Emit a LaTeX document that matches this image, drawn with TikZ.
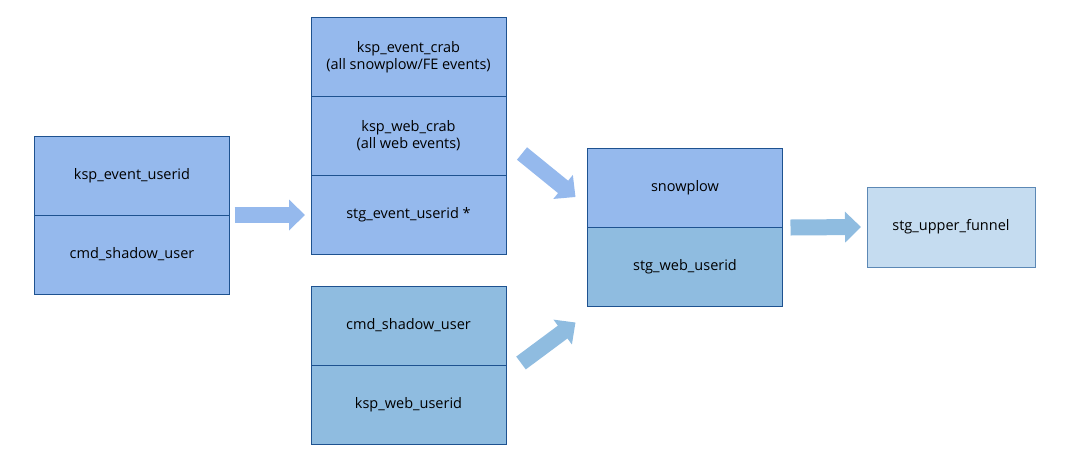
\documentclass[tikz,border=0pt]{standalone}
\usepackage{fontspec}
\setmainfont{Open Sans}
\usepackage{xcolor}
\usetikzlibrary{positioning,calc,arrows.meta}

\definecolor{topblue}{HTML}{95B9ED}
\definecolor{lowblue}{HTML}{8FBCE0}
\definecolor{paleblue}{HTML}{C5DCF0}
\definecolor{edgeblue}{HTML}{1E5290}
\definecolor{greyedge}{HTML}{5C88B5}

\begin{document}
\begin{tikzpicture}[x=1pt,y=-1pt,
    tbl/.style={rectangle, draw=edgeblue, line width=0.9pt, fill=topblue, minimum width=195pt,
      minimum height=79pt, inner sep=0pt, outer sep=0pt, align=center, font=\fontsize{14.5}{17}\selectfont},
    fat/.style={-{Triangle[length=16pt,width=30pt]}, line width=16pt}]
        \useasboundingbox (0,0) rectangle (1087,464);
        % Inputs
        \node[tbl] (evuser) at (132,175.5) {ksp\_event\_userid};
        \node[tbl, below=0pt of evuser] (shadowA) {cmd\_shadow\_user};

        % Crab stack
        \node[tbl] (evcrab) at (408.5,57) {ksp\_event\_crab\\(all snowplow/FE events)};
        \node[tbl, below=0pt of evcrab] (webcrab) {ksp\_web\_crab\\(all web events)};
        \node[tbl, below=0pt of webcrab] (stgevent) {stg\_event\_userid *};

        % Shadow stack
        \node[tbl, fill=lowblue] (shadowB) at (408.5,325.5) {cmd\_shadow\_user};
        \node[tbl, fill=lowblue, below=0pt of shadowB] (webuser) {ksp\_web\_userid};

        % Snowplow
        \node[tbl] (snow) at (685,188) {snowplow};
        \node[tbl, fill=lowblue, below=0pt of snow] (stgweb) {stg\_web\_userid};

        % Output
        \node[tbl, draw=greyedge, fill=paleblue, minimum width=168pt, minimum height=80pt] (funnel) at (951,227) {stg\_upper\_funnel};

        % Arrows
        \draw[fat, topblue] ($(evuser.south east)+(5,0)$) -- ($(stgevent.west)+(-6,0)$);
        \draw[fat, topblue] ($(webcrab.east)+(16,17.5)$) -- ($(snow.west)+(-12,9)$);
        \draw[fat, lowblue] ($(shadowB.east)+(15,37.5)$) -- ($(stgweb.west)+(-12,55.5)$);
        \draw[fat, lowblue] ($(stgweb.north east)+(8,0)$) -- ($(funnel.west)+(-6,0)$);
    \end{tikzpicture}
\end{document}
